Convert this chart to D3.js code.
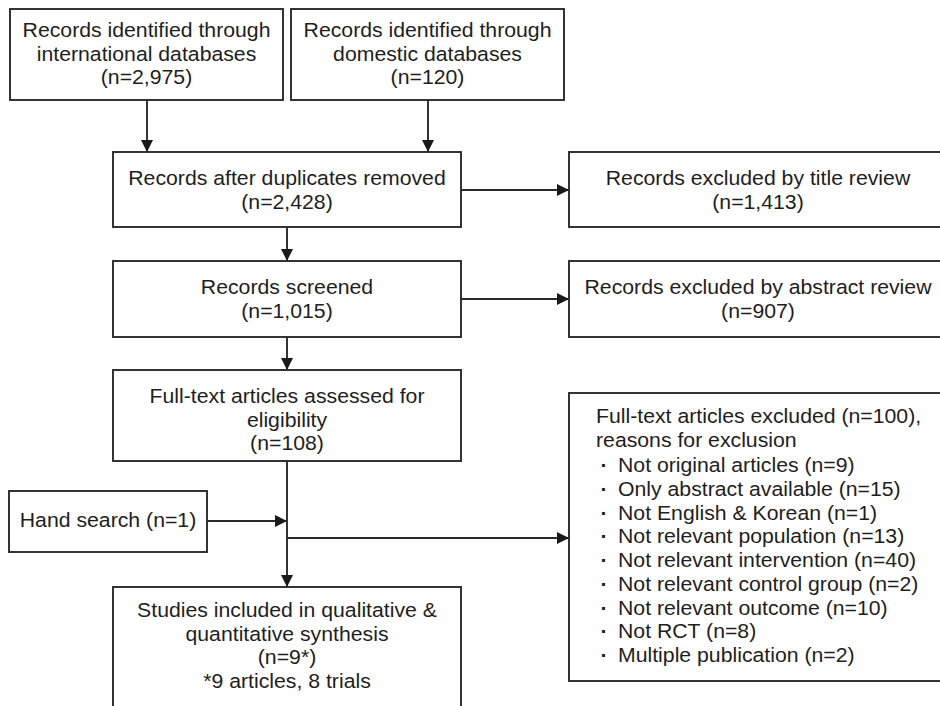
<!DOCTYPE html>
<html>
<head>
<meta charset="utf-8">
<script src="https://cdn.jsdelivr.net/npm/d3@7"></script>
<style>
  html, body { margin: 0; padding: 0; background: #fff; }
  svg { display: block; }
</style>
</head>
<body>
<svg id="chart" width="940" height="706"></svg>
<script>
// ---------- DATA ----------
const sourceNames = ["international databases", "domestic databases"];
const sourceCounts = ["2,975", "120"];
const mainStages = [
  ["Records after duplicates removed"],
  ["Records screened"],
  ["Full-text articles assessed for", "eligibility"]
];
const mainCounts = ["2,428", "1,015", "108"];
const excludedStages = ["Records excluded by title review", "Records excluded by abstract review"];
const excludedCounts = ["1,413", "907"];
const fullTextExcludedCount = "100";
const exclusionReasons = [
  "Not original articles", "Only abstract available", "Not English & Korean",
  "Not relevant population", "Not relevant intervention", "Not relevant control group",
  "Not relevant outcome", "Not RCT", "Multiple publication"
];
const exclusionCounts = [9, 15, 1, 13, 40, 2, 10, 8, 2];
const handSearchCount = 1;
const includedLines = ["Studies included in qualitative &", "quantitative synthesis"];
const includedCount = "9*";
const includedNote = "*9 articles, 8 trials";

// ---------- LAYOUT ----------
const svg = d3.select("#chart");
const ink = "#1e1e1e";
const lineCol = "#2a2a2a";
const fs = 19.5, sx = 1.09, lh = 23.6;

svg.append("defs").append("marker")
  .attr("id", "arr").attr("viewBox", "0 0 12 12")
  .attr("refX", 12).attr("refY", 6)
  .attr("markerWidth", 12).attr("markerHeight", 12)
  .attr("markerUnits", "userSpaceOnUse")
  .attr("orient", "auto")
  .append("path").attr("d", "M0,0 L12,6 L0,12 Z").attr("fill", "#1a1a1a");

function box(x, y, w, h) {
  svg.append("rect").attr("x", x).attr("y", y).attr("width", w).attr("height", h)
    .attr("fill", "#fff").attr("stroke", lineCol).attr("stroke-width", 1.9);
}
function txt(x, y, s, anchor, weight) {
  svg.append("text")
    .attr("transform", `translate(${x},${y}) scale(${sx},1)`)
    .attr("text-anchor", anchor || "middle")
    .attr("font-family", "'Liberation Sans', Arial, Helvetica, sans-serif")
    .attr("font-size", fs).attr("fill", ink)
    .attr("font-weight", weight || "normal")
    .text(s);
}
function lines(cx, y0, arr, anchor) {
  arr.forEach((s, i) => txt(cx, y0 + i * lh, s, anchor));
}
function link(pts, arrow) {
  const p = svg.append("path").attr("d", d3.line()(pts))
    .attr("fill", "none").attr("stroke", lineCol).attr("stroke-width", 1.9);
  if (arrow) p.attr("marker-end", "url(#arr)");
}

// columns / rows
const col = d3.scaleOrdinal().domain(["src0", "src1", "main", "excl", "hand"]).range([10, 291, 113, 569, 9]);
const mainW = 348, mainCx = 113 + mainW / 2, exW = 380;
const mainRows = [152, 261, 370];
const mainH = [75, 76, 91];

// source boxes
sourceNames.forEach((nm, i) => {
  const x = col("src" + i), w = 273;
  box(x, 9, w, 91);
  lines(x + w / 2, 37, ["Records identified through", nm, `(n=${sourceCounts[i]})`]);
  link([[x + 137, 100], [x + 137, mainRows[0]]], true);
});

// main stages
mainStages.forEach((ls, i) => {
  box(col("main"), mainRows[i], mainW, mainH[i]);
  lines(mainCx, mainRows[i] + 33, ls.concat([`(n=${mainCounts[i]})`]));
  if (i < mainStages.length - 1) link([[mainCx, mainRows[i] + mainH[i]], [mainCx, mainRows[i + 1]]], true);
});

// excluded stages
excludedStages.forEach((s, i) => {
  const y = mainRows[i], h = mainH[i];
  box(col("excl"), y, exW, h);
  lines(col("excl") + 189, y + 33, [s, `(n=${excludedCounts[i]})`]);
  link([[col("main") + mainW, y + 38], [col("excl"), y + 38]], true);
});

// full-text excluded box
const fxY = 393;
box(col("excl"), fxY, exW, 288);
txt(596, fxY + 30, `Full-text articles excluded (n=${fullTextExcludedCount}),`, "start");
txt(596, fxY + 30 + lh, "reasons for exclusion", "start");
exclusionReasons.forEach((r, i) => {
  const y = 472 + i * 23.75;
  txt(604, y, "·", "middle", "bold");
  txt(618, y, `${r} (n=${exclusionCounts[i]})`, "start");
});

// hand search
box(col("hand"), 491, 198, 61);
txt(col("hand") + 99, 527, `Hand search (n=${handSearchCount})`);
link([[col("hand") + 198, 521], [mainCx, 521]], true);

// included
const incY = 587;
link([[mainCx, 461], [mainCx, incY]], true);
link([[mainCx, 538], [col("excl"), 538]], true);
box(col("main"), incY, mainW, 150);
lines(mainCx, incY + 30, includedLines.concat([`(n=${includedCount})`, includedNote]));
</script>
</body>
</html>
